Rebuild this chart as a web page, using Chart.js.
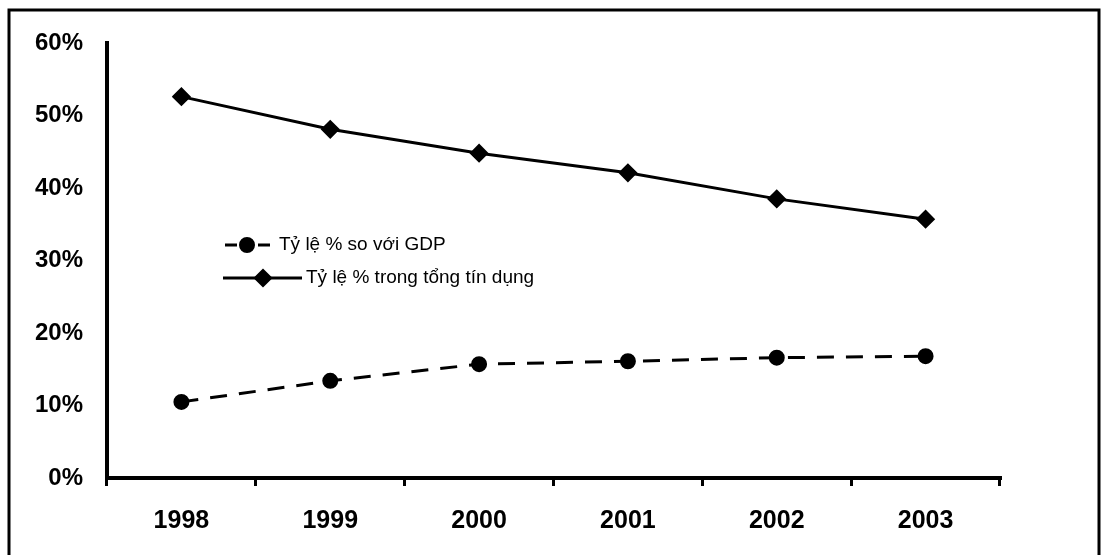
<!DOCTYPE html>
<html lang="vi">
<head>
<meta charset="UTF-8">
<title>Tỷ lệ %</title>
<script src="https://cdn.jsdelivr.net/npm/chart.js"></script>
<style>
  html, body { margin: 0; padding: 0; background: #fff; }
  #wrap { position: relative; width: 1103px; height: 555px; }
</style>
</head>
<body>
<div id="wrap"><canvas id="chart" width="1103" height="555"></canvas></div>
<script>
const years = ['1998', '1999', '2000', '2001', '2002', '2003'];
const gdpShare = [10.5, 13.4, 15.7, 16.1, 16.6, 16.8];      // dashed, circles
const creditShare = [52.6, 48.1, 44.8, 42.1, 38.5, 35.7];   // solid, diamonds
const seriesNames = ['Tỷ lệ % so với GDP', 'Tỷ lệ % trong tổng tín dụng'];
const yTicks = [0, 10, 20, 30, 40, 50, 60];

const FONT = '"Liberation Sans", Arial, sans-serif';

// outer frame of the figure
const framePlugin = {
    id: 'frame',
    beforeDraw(chart) {
        const ctx = chart.ctx;
        ctx.save();
        ctx.strokeStyle = '#000';
        ctx.lineWidth = 3;
        ctx.strokeRect(9, 10, 1090, 600);
        ctx.restore();
    }
};

// legend drawn inside the plot area, like the original
const legendRows = [
    { y: 245, x0: 225, x1: 270, px: 247, tx: 279, dash: [12, 21] },
    { y: 278, x0: 223, x1: 302, px: 263, tx: 306, dash: [] }
];
const insideLegend = {
    id: 'insideLegend',
    afterDraw(chart) {
        const ctx = chart.ctx;
        chart.data.datasets.forEach((ds, i) => {
            const r = legendRows[i];
            ctx.save();
            ctx.strokeStyle = '#000';
            ctx.lineWidth = ds.borderWidth;
            ctx.setLineDash(r.dash);
            ctx.beginPath();
            ctx.moveTo(r.x0, r.y);
            ctx.lineTo(r.x1, r.y);
            ctx.stroke();
            ctx.setLineDash([]);
            ctx.fillStyle = '#000';
            Chart.helpers.drawPoint(ctx, {
                pointStyle: ds.pointStyle,
                radius: ds.pointRadius,
                borderWidth: 1,
                rotation: 0
            }, r.px, r.y);
            ctx.fill();
            ctx.font = '19px ' + FONT;
            ctx.textBaseline = 'middle';
            ctx.textAlign = 'left';
            ctx.fillText(ds.label, r.tx, r.y);
            ctx.restore();
        });
    }
};

new Chart(document.getElementById('chart'), {
    type: 'line',
    data: {
        labels: years,
        datasets: [
            {
                label: seriesNames[0],
                data: gdpShare,
                borderColor: '#000',
                backgroundColor: '#000',
                borderWidth: 3,
                borderDash: [17, 12],
                pointStyle: 'circle',
                pointRadius: 6.5,
                pointBackgroundColor: '#000',
                pointBorderColor: '#000',
                tension: 0
            },
            {
                label: seriesNames[1],
                data: creditShare,
                borderColor: '#000',
                backgroundColor: '#000',
                borderWidth: 3,
                pointStyle: 'rectRot',
                pointRadius: 7.5,
                pointBackgroundColor: '#000',
                pointBorderColor: '#000',
                tension: 0
            }
        ]
    },
    options: {
        responsive: false,
        animation: false,
        layout: { padding: { left: 0, top: 43, right: 103, bottom: 0 } },
        plugins: {
            legend: { display: false },
            tooltip: { enabled: false }
        },
        scales: {
            x: {
                offset: true,
                grid: {
                    offset: true,
                    drawOnChartArea: false,
                    drawTicks: true,
                    tickLength: 8,
                    color: '#000',
                    lineWidth: 3
                },
                border: { display: true, color: '#000', width: 4 },
                ticks: {
                    color: '#000',
                    padding: 20,
                    font: { family: FONT, size: 25, weight: 'bold' }
                },
                afterFit(scale) { scale.height = 77; }
            },
            y: {
                min: 0,
                max: 60,
                afterBuildTicks(scale) {
                    scale.ticks = yTicks.map(v => ({ value: v }));
                },
                grid: { display: false, drawTicks: false },
                border: { display: true, color: '#000', width: 4 },
                ticks: {
                    color: '#000',
                    padding: 24,
                    font: { family: FONT, size: 24, weight: 'bold' },
                    callback: v => v + '%'
                },
                afterFit(scale) { scale.width = 107; }
            }
        }
    },
    plugins: [framePlugin, insideLegend]
});
</script>
</body>
</html>
